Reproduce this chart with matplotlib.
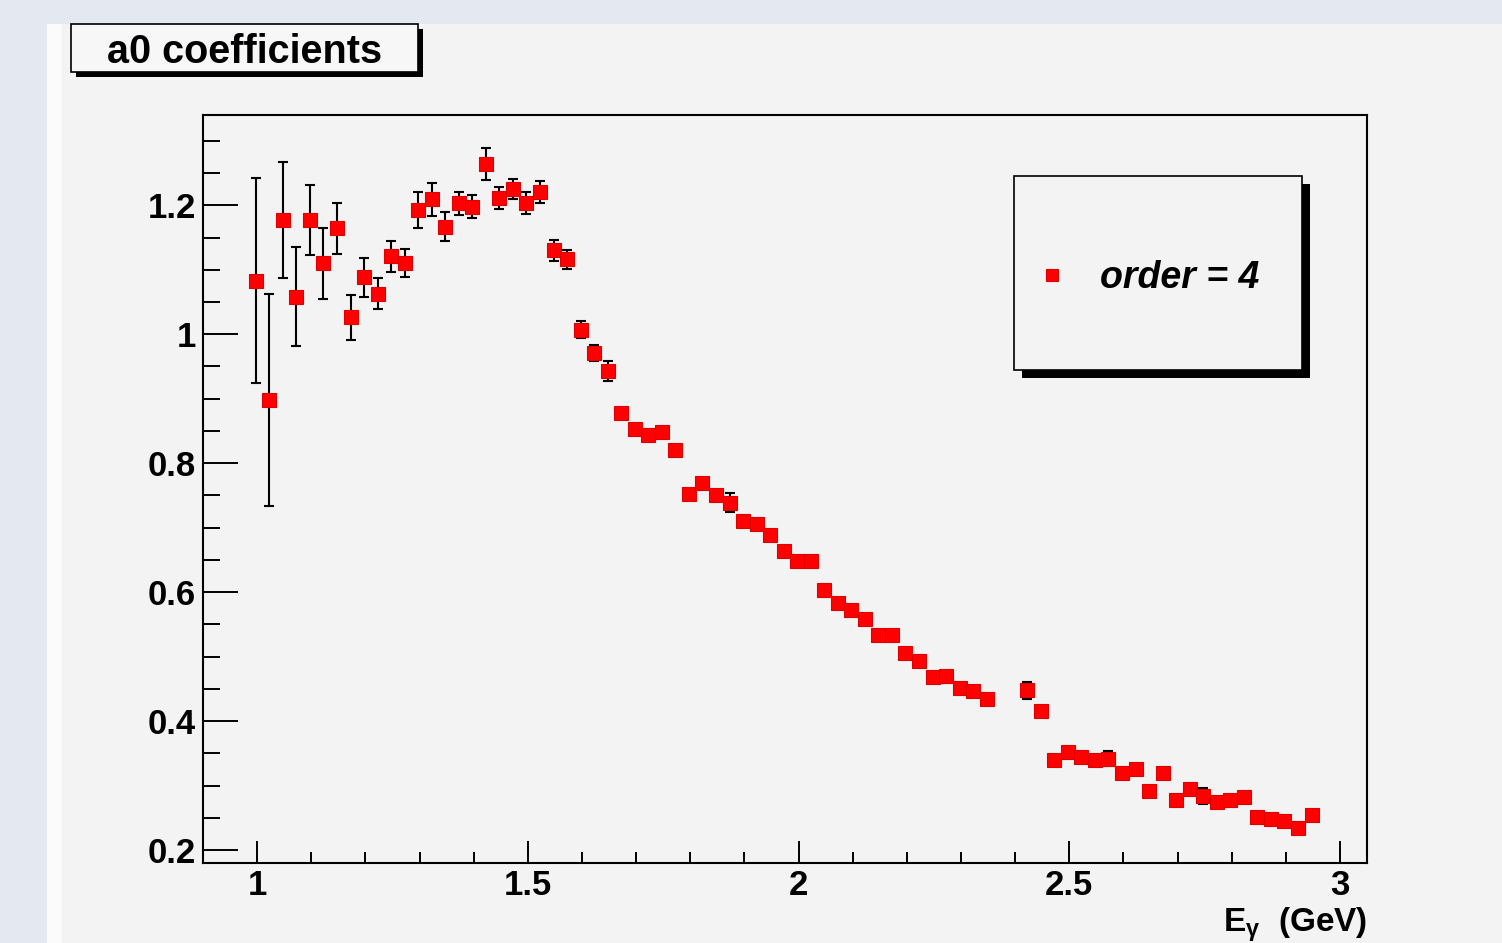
import matplotlib
matplotlib.use("Agg")
import matplotlib.pyplot as plt
from matplotlib.patches import Rectangle
from matplotlib.ticker import MultipleLocator, FixedFormatter, FixedLocator

plt.rcParams['font.family'] = ['Liberation Sans', 'DejaVu Sans']
plt.rcParams['mathtext.fontset'] = 'custom'
plt.rcParams['mathtext.rm'] = 'Liberation Sans:bold'
plt.rcParams['mathtext.it'] = 'Liberation Sans:bold'
plt.rcParams['mathtext.bf'] = 'Liberation Sans:bold'

# ---------------- data ----------------
energy = [0.9975, 1.0225, 1.0475, 1.0725, 1.0975, 1.1225, 1.1475, 1.1725, 1.1975, 1.2225,
          1.2475, 1.2725, 1.2975, 1.3225, 1.3475, 1.3725, 1.3975, 1.4225, 1.4475, 1.4725,
          1.4975, 1.5225, 1.5475, 1.5725, 1.5975, 1.6225, 1.6475, 1.6725, 1.6975, 1.7225,
          1.7475, 1.7725, 1.7975, 1.8225, 1.8475, 1.8725, 1.8975, 1.9225, 1.9475, 1.9725,
          1.9975, 2.0225, 2.0475, 2.0725, 2.0975, 2.1225, 2.1475, 2.1725, 2.1975, 2.2225,
          2.2475, 2.2725, 2.2975, 2.3225, 2.3475, 2.4225, 2.4475, 2.4725, 2.4975, 2.5225,
          2.5475, 2.5725, 2.5975, 2.6225, 2.6475, 2.6725, 2.6975, 2.7225, 2.7475, 2.7725,
          2.7975, 2.8225, 2.8475, 2.8725, 2.8975, 2.9225, 2.9475]

a0 = [1.083, 0.898, 1.177, 1.058, 1.177, 1.110, 1.164, 1.026, 1.088, 1.063,
      1.121, 1.110, 1.192, 1.209, 1.167, 1.203, 1.198, 1.264, 1.211, 1.225,
      1.203, 1.220, 1.130, 1.116, 1.007, 0.971, 0.943, 0.878, 0.853, 0.843,
      0.848, 0.820, 0.752, 0.770, 0.750, 0.739, 0.711, 0.706, 0.689, 0.664,
      0.649, 0.649, 0.604, 0.583, 0.572, 0.558, 0.533, 0.533, 0.506, 0.494,
      0.468, 0.470, 0.451, 0.446, 0.435, 0.448, 0.415, 0.340, 0.352, 0.344,
      0.339, 0.342, 0.320, 0.325, 0.292, 0.320, 0.278, 0.294, 0.284, 0.274,
      0.278, 0.282, 0.251, 0.248, 0.245, 0.235, 0.255]

a0_err = [0.159, 0.164, 0.090, 0.077, 0.054, 0.055, 0.039, 0.035, 0.031, 0.024,
          0.024, 0.022, 0.028, 0.026, 0.022, 0.018, 0.018, 0.025, 0.017, 0.016,
          0.017, 0.017, 0.016, 0.015, 0.013, 0.013, 0.015, 0.006, 0.006, 0.006,
          0.006, 0.006, 0.006, 0.006, 0.006, 0.015, 0.006, 0.006, 0.006, 0.006,
          0.006, 0.006, 0.006, 0.006, 0.006, 0.006, 0.006, 0.006, 0.006, 0.006,
          0.006, 0.006, 0.006, 0.006, 0.006, 0.013, 0.006, 0.006, 0.006, 0.006,
          0.006, 0.012, 0.006, 0.006, 0.006, 0.006, 0.006, 0.006, 0.013, 0.006,
          0.006, 0.006, 0.006, 0.006, 0.006, 0.006, 0.006]

title_text = "a0 coefficients"
legend_label = "order = 4"
x_label = r"E$_{\gamma}$  (GeV)"
x_ticks = [1, 1.5, 2, 2.5, 3]
x_tick_labels = ["1", "1.5", "2", "2.5", "3"]
y_ticks = [0.2, 0.4, 0.6, 0.8, 1.0, 1.2]
y_tick_labels = ["0.2", "0.4", "0.6", "0.8", "1", "1.2"]

# ---------------- figure ----------------
W, H = 1502, 943
fig = plt.figure(figsize=(W / 100, H / 100), dpi=100)
fig.patch.set_facecolor("#f3f3f3")


def px_rect(x0, y0, x1, y1, parent, **kw):
    """rectangle given in pixel coords (origin top-left), in figure space"""
    r = Rectangle((x0 / W, 1 - y1 / H), (x1 - x0) / W, (y1 - y0) / H,
                  transform=fig.transFigure, clip_on=False, **kw)
    if parent is fig:
        fig.add_artist(r)
    else:
        parent.add_patch(r)
        r.set_transform(fig.transFigure)
    return r


# outer window border
px_rect(0, 0, W, 24, fig, facecolor="#e4e8f0", edgecolor="none", zorder=0)
px_rect(0, 0, 47, H, fig, facecolor="#e4e8f0", edgecolor="none", zorder=0)
px_rect(47, 24, 62, H, fig, facecolor="#fbfbfb", edgecolor="none", zorder=0)

ax = fig.add_axes([203 / W, 1 - 863 / H, (1367 - 203) / W, (863 - 115) / H])
ax.set_facecolor("#f3f3f3")
ax.set_xlim(0.9, 3.05)
ax.set_ylim(0.18, 1.34)

ax.errorbar(energy, a0, yerr=a0_err, fmt="none", ecolor="black",
            elinewidth=1.5, capsize=3.6, capthick=1.5, zorder=2)
ax.plot(energy, a0, linestyle="none", marker="s", markersize=10,
        markerfacecolor="#ff0000", markeredgecolor="#dd0000",
        markeredgewidth=0.8, zorder=3, label=legend_label)

for s in ax.spines.values():
    s.set_linewidth(1.5)
    s.set_color("black")

ax.xaxis.set_major_locator(FixedLocator(x_ticks))
ax.xaxis.set_major_formatter(FixedFormatter(x_tick_labels))
ax.xaxis.set_minor_locator(MultipleLocator(0.1))
ax.yaxis.set_major_locator(FixedLocator(y_ticks))
ax.yaxis.set_major_formatter(FixedFormatter(y_tick_labels))
ax.yaxis.set_minor_locator(MultipleLocator(0.05))

ax.tick_params(axis="x", which="major", direction="in", length=16, width=1.4,
               pad=4, labelsize=25, top=False)
ax.tick_params(axis="x", which="minor", direction="in", length=8, width=1.4, top=False)
ax.tick_params(axis="y", which="major", direction="in", length=25, width=1.4,
               pad=5, labelsize=25, right=False)
ax.tick_params(axis="y", which="minor", direction="in", length=12.5, width=1.4, right=False)
for lab in ax.get_xticklabels() + ax.get_yticklabels():
    lab.set_fontweight("bold")

# x axis title
fig.text(1367 / W, 1 - 932 / H, x_label, ha="right", va="baseline",
         fontsize=24, fontweight="bold")

# title box with shadow
px_rect(76, 29, 423, 77, fig, facecolor="black", edgecolor="none", zorder=5)
px_rect(71, 24, 418, 72, fig, facecolor="#f7f7f7", edgecolor="black", linewidth=1.2, zorder=6)
fig.text((71 + 418) / 2 / W, 1 - 52 / H, title_text, ha="center", va="center",
         fontsize=28.5, fontweight="bold", zorder=7)

# legend box with shadow (inside the axes so the legend is drawn on top)
px_rect(1022, 184, 1310, 378, ax, facecolor="black", edgecolor="none", zorder=5)
px_rect(1014, 176, 1302, 370, ax, facecolor="#f3f3f3", edgecolor="black", linewidth=1.2, zorder=6)
leg = ax.legend(loc="center left", bbox_to_anchor=(1033 / W, 1 - 278 / H),
                bbox_transform=fig.transFigure, frameon=False, borderpad=0,
                borderaxespad=0, handlelength=1.0, handletextpad=0.8,
                markerscale=0.8,
                prop={"size": 27, "weight": "bold", "style": "italic"})
leg.set_zorder(8)

fig.savefig("out.png", dpi=100, facecolor=fig.get_facecolor())
